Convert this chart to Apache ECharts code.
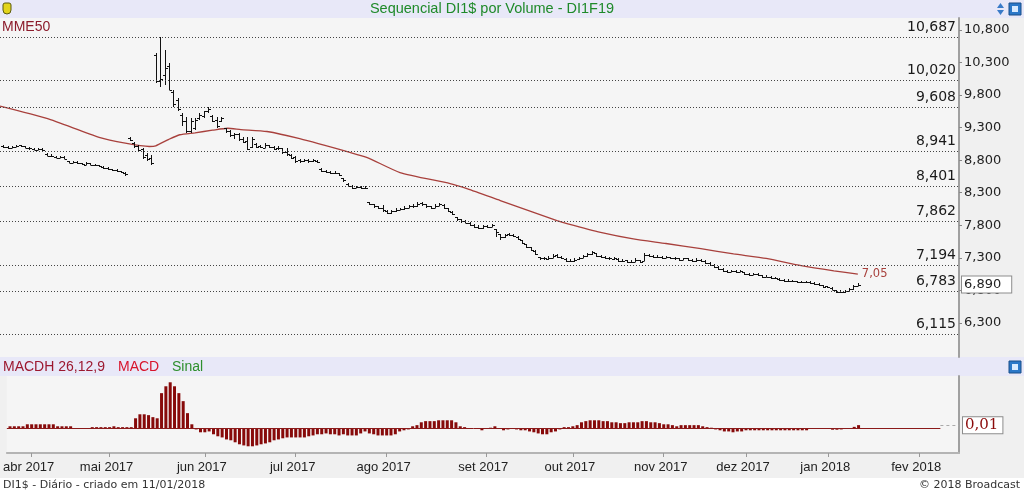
<!DOCTYPE html>
<html>
<head>
<meta charset="utf-8">
<title>Sequencial DI1$ por Volume - DI1F19</title>
<script src="https://cdn.jsdelivr.net/npm/echarts@6/dist/echarts.min.js"></script>
<style>
  html, body { margin: 0; padding: 0; background: #f0f0f0; }
  #main { width: 1024px; height: 491px; }
</style>
</head>
<body>
<div id="main"></div>
<script>
// dias de pregão numerados, 03/04/2017 = 0
var firstDay = -5;

var opens = [
  9.01, 9.00, 8.98, 9.00, 9.03, 9.01, 8.99, 8.97, 8.96, 8.97,
  8.90, 8.87, 8.85, 8.84, 8.85, 8.78, 8.76, 8.77, 8.75, 8.73,
  8.75, 8.73, 8.72, 8.70, 8.68, 8.66, 8.65, 8.63, 8.61, 9.14,
  9.07, 9.01, 8.97, 8.88, 8.83, 10.42, 10.02, 10.10, 10.25, 9.85,
  9.72, 9.50, 9.40, 9.25, 9.30, 9.45, 9.48, 9.55, 9.48, 9.42,
  9.40, 9.30, 9.24, 9.18, 9.20, 9.13, 9.10, 9.00, 9.05, 9.02,
  8.99, 9.03, 9.00, 8.98, 8.98, 8.93, 8.88, 8.85, 8.80, 8.78,
  8.80, 8.78, 8.79, 8.67, 8.64, 8.62, 8.60, 8.60, 8.53, 8.44,
  8.41, 8.38, 8.39, 8.37, 8.15, 8.12, 8.09, 8.07, 8.02, 7.99,
  8.02, 8.04, 8.05, 8.07, 8.10, 8.09, 8.14, 8.12, 8.09, 8.07,
  8.10, 8.11, 8.06, 8.01, 7.92, 7.89, 7.86, 7.84, 7.81, 7.78,
  7.76, 7.79, 7.78, 7.74, 7.66, 7.62, 7.66, 7.65, 7.62, 7.57,
  7.51, 7.46, 7.41, 7.31, 7.29, 7.28, 7.30, 7.34, 7.32, 7.28,
  7.25, 7.25, 7.28, 7.30, 7.33, 7.36, 7.37, 7.33, 7.32, 7.30,
  7.28, 7.28, 7.25, 7.26, 7.24, 7.24, 7.26, 7.25, 7.35, 7.33,
  7.32, 7.31, 7.30, 7.31, 7.30, 7.29, 7.27, 7.29, 7.27, 7.25,
  7.27, 7.25, 7.22, 7.19, 7.16, 7.13, 7.10, 7.09, 7.10, 7.09,
  7.08, 7.05, 7.04, 7.05, 7.03, 7.01, 7.01, 6.99, 6.98, 6.96,
  6.95, 6.95, 6.94, 6.93, 6.93, 6.93, 6.92, 6.90, 6.88, 6.86,
  6.84, 6.80, 6.78, 6.77, 6.79, 6.82, 6.87
];
var highs = [
  9.03, 9.01, 9.02, 9.04, 9.04, 9.02, 9.00, 8.98, 8.99, 8.98,
  8.91, 8.89, 8.87, 8.87, 8.86, 8.79, 8.79, 8.78, 8.76, 8.77,
  8.76, 8.74, 8.73, 8.71, 8.69, 8.67, 8.66, 8.64, 8.62, 9.16,
  9.08, 9.03, 8.99, 8.91, 8.88, 10.45, 10.687, 10.49, 10.29, 9.87,
  9.75, 9.52, 9.46, 9.44, 9.44, 9.52, 9.56, 9.61, 9.49, 9.46,
  9.46, 9.30, 9.26, 9.22, 9.22, 9.15, 9.15, 9.15, 9.06, 9.04,
  9.06, 9.04, 9.02, 9.02, 8.99, 8.98, 8.90, 8.87, 8.82, 8.82,
  8.81, 8.82, 8.80, 8.68, 8.65, 8.63, 8.63, 8.61, 8.53, 8.45,
  8.42, 8.41, 8.40, 8.40, 8.16, 8.13, 8.10, 8.11, 8.03, 8.04,
  8.06, 8.07, 8.09, 8.11, 8.12, 8.16, 8.15, 8.13, 8.10, 8.12,
  8.14, 8.12, 8.07, 8.02, 7.93, 7.90, 7.88, 7.85, 7.82, 7.80,
  7.81, 7.81, 7.82, 7.75, 7.67, 7.67, 7.68, 7.67, 7.63, 7.58,
  7.52, 7.47, 7.42, 7.32, 7.31, 7.33, 7.36, 7.36, 7.33, 7.29,
  7.28, 7.29, 7.32, 7.35, 7.38, 7.41, 7.38, 7.35, 7.33, 7.31,
  7.31, 7.29, 7.28, 7.27, 7.26, 7.29, 7.27, 7.38, 7.36, 7.35,
  7.34, 7.33, 7.33, 7.32, 7.31, 7.30, 7.30, 7.30, 7.28, 7.29,
  7.28, 7.26, 7.23, 7.20, 7.17, 7.14, 7.12, 7.12, 7.11, 7.12,
  7.09, 7.07, 7.07, 7.06, 7.04, 7.03, 7.02, 7.01, 6.99, 6.97,
  6.97, 6.96, 6.95, 6.95, 6.94, 6.94, 6.93, 6.91, 6.89, 6.87,
  6.85, 6.81, 6.80, 6.80, 6.83, 6.88, 6.91
];
var lows = [
  8.99, 8.97, 8.98, 9.00, 9.00, 8.98, 8.96, 8.95, 8.95, 8.94,
  8.86, 8.85, 8.83, 8.83, 8.81, 8.75, 8.75, 8.74, 8.72, 8.73,
  8.72, 8.71, 8.69, 8.67, 8.65, 8.64, 8.62, 8.60, 8.56, 9.10,
  8.99, 8.92, 8.82, 8.79, 8.72, 9.99, 9.92, 9.95, 9.87, 9.61,
  9.56, 9.33, 9.21, 9.21, 9.26, 9.41, 9.44, 9.52, 9.38, 9.29,
  9.38, 9.22, 9.15, 9.13, 9.10, 9.06, 8.95, 8.99, 8.98, 8.98,
  8.98, 8.98, 8.95, 8.95, 8.90, 8.87, 8.82, 8.76, 8.76, 8.77,
  8.76, 8.77, 8.75, 8.62, 8.60, 8.58, 8.59, 8.55, 8.47, 8.39,
  8.36, 8.37, 8.35, 8.36, 8.11, 8.07, 8.05, 8.00, 7.98, 7.98,
  8.01, 8.03, 8.04, 8.06, 8.07, 8.08, 8.10, 8.07, 8.05, 8.06,
  8.09, 8.05, 8.00, 7.96, 7.87, 7.84, 7.83, 7.79, 7.76, 7.75,
  7.75, 7.76, 7.77, 7.62, 7.58, 7.61, 7.63, 7.62, 7.57, 7.51,
  7.45, 7.40, 7.34, 7.27, 7.27, 7.27, 7.29, 7.30, 7.28, 7.23,
  7.23, 7.24, 7.27, 7.29, 7.32, 7.35, 7.31, 7.30, 7.28, 7.27,
  7.27, 7.24, 7.23, 7.22, 7.22, 7.23, 7.22, 7.25, 7.31, 7.30,
  7.30, 7.28, 7.29, 7.28, 7.27, 7.25, 7.26, 7.25, 7.23, 7.24,
  7.23, 7.20, 7.17, 7.14, 7.11, 7.08, 7.07, 7.08, 7.07, 7.08,
  7.03, 7.02, 7.03, 7.02, 6.99, 7.00, 6.97, 6.98, 6.94, 6.93,
  6.93, 6.93, 6.91, 6.92, 6.91, 6.90, 6.88, 6.87, 6.84, 6.83,
  6.80, 6.76, 6.76, 6.76, 6.78, 6.81, 6.86
];
var closes = [
  9.00, 8.99, 9.00, 9.02, 9.01, 8.99, 8.98, 8.96, 8.97, 8.95,
  8.87, 8.86, 8.84, 8.85, 8.82, 8.76, 8.77, 8.75, 8.74, 8.75,
  8.73, 8.72, 8.71, 8.68, 8.66, 8.65, 8.63, 8.62, 8.58, 9.11,
  9.02, 8.95, 8.85, 8.81, 8.76, 10.02, 10.05, 10.21, 9.88, 9.66,
  9.58, 9.40, 9.25, 9.40, 9.42, 9.50, 9.55, 9.59, 9.40, 9.32,
  9.44, 9.24, 9.18, 9.20, 9.12, 9.08, 8.97, 9.12, 9.00, 9.00,
  9.04, 9.00, 8.97, 8.99, 8.92, 8.89, 8.84, 8.78, 8.79, 8.80,
  8.78, 8.80, 8.77, 8.64, 8.62, 8.60, 8.61, 8.57, 8.49, 8.41,
  8.38, 8.39, 8.37, 8.38, 8.13, 8.09, 8.07, 8.04, 7.99, 8.02,
  8.04, 8.05, 8.07, 8.09, 8.09, 8.13, 8.12, 8.09, 8.07, 8.10,
  8.12, 8.07, 8.02, 7.98, 7.89, 7.86, 7.84, 7.81, 7.78, 7.76,
  7.79, 7.78, 7.80, 7.69, 7.62, 7.65, 7.65, 7.64, 7.59, 7.53,
  7.47, 7.42, 7.36, 7.29, 7.29, 7.30, 7.33, 7.32, 7.30, 7.25,
  7.25, 7.27, 7.30, 7.33, 7.36, 7.39, 7.33, 7.32, 7.30, 7.29,
  7.29, 7.25, 7.25, 7.24, 7.24, 7.27, 7.24, 7.35, 7.33, 7.32,
  7.32, 7.30, 7.32, 7.30, 7.29, 7.27, 7.29, 7.27, 7.25, 7.27,
  7.25, 7.22, 7.19, 7.16, 7.13, 7.10, 7.09, 7.10, 7.09, 7.10,
  7.05, 7.04, 7.05, 7.04, 7.01, 7.01, 6.99, 6.99, 6.96, 6.95,
  6.95, 6.95, 6.93, 6.93, 6.93, 6.92, 6.90, 6.89, 6.85, 6.85,
  6.81, 6.78, 6.78, 6.79, 6.82, 6.87, 6.89
];

// MACDH 26,12,9
var macdHist = [
  0.007, 0.007, 0.007, 0.007, 0.014, 0.014, 0.014, 0.014, 0.014, 0.014,
  0.014, 0.007, 0.007, 0.007, 0.007, 0, 0, 0, 0, 0.004,
  0.004, 0.004, 0.004, 0.004, 0.007, 0.004, 0.004, 0.004, 0.004, 0.035,
  0.049, 0.049, 0.046, 0.039, 0.035, 0.123, 0.147, 0.161, 0.147, 0.123,
  0.095, 0.053, 0.014, -0.004, -0.014, -0.014, -0.011, -0.021, -0.028, -0.032,
  -0.039, -0.042, -0.049, -0.056, -0.060, -0.063, -0.063, -0.060, -0.056, -0.053,
  -0.049, -0.042, -0.039, -0.035, -0.032, -0.032, -0.032, -0.032, -0.032, -0.028,
  -0.025, -0.021, -0.021, -0.018, -0.021, -0.021, -0.025, -0.021, -0.025, -0.025,
  -0.025, -0.018, -0.011, -0.018, -0.021, -0.025, -0.025, -0.025, -0.025, -0.021,
  -0.011, -0.007, -0.004, 0.007, 0.011, 0.021, 0.025, 0.025, 0.025, 0.028,
  0.028, 0.028, 0.028, 0.021, 0.007, 0.004, 0.001, 0, 0, -0.007,
  -0.002, 0.002, 0.007, -0.002, -0.007, -0.004, -0.002, -0.004, -0.007, -0.007,
  -0.011, -0.014, -0.018, -0.021, -0.021, -0.014, -0.011, -0.004, 0.004, 0.004,
  0.007, 0.011, 0.021, 0.025, 0.028, 0.028, 0.028, 0.025, 0.025, 0.021,
  0.021, 0.018, 0.018, 0.021, 0.021, 0.021, 0.025, 0.025, 0.021, 0.021,
  0.018, 0.014, 0.014, 0.011, 0.007, 0.011, 0.011, 0.011, 0.011, 0.011,
  0.007, 0.004, 0.002, -0.004, -0.007, -0.011, -0.011, -0.014, -0.011, -0.011,
  -0.007, -0.007, -0.007, -0.007, -0.007, -0.007, -0.007, -0.007, -0.007, -0.007,
  -0.007, -0.007, -0.007, -0.007, -0.007, 0, 0, 0, 0, 0,
  -0.005, -0.005, -0.004, 0, 0, 0.005, 0.011
];

// MME50
var mmeDays   = [-5.73, 5, 17, 23, 28.5, 30, 33, 35.5, 39, 43, 46.5, 49.5, 55.5, 63, 74.5, 78.5,
                 86, 97.5, 101.5, 109, 122, 124.5, 132, 139.5, 147, 155, 162.5, 170, 178, 185.5, 191];
var mmeValues = [9.63, 9.44, 9.15, 9.06, 9.01, 9.02, 9.12, 9.19, 9.22, 9.26, 9.29, 9.27, 9.24, 9.13, 8.92, 8.84,
                 8.61, 8.44, 8.36, 8.18, 7.87, 7.82, 7.69, 7.59, 7.52, 7.44, 7.36, 7.29, 7.18, 7.10, 7.05];

var fibLevels  = [10.687, 10.020, 9.608, 8.941, 8.401, 7.862, 7.194, 6.783, 6.115];
var priceTicks = [6.3, 6.8, 7.3, 7.8, 8.3, 8.8, 9.3, 9.8, 10.3, 10.8];
var monthDays  = [0, 18, 40, 61, 82, 105, 125, 146, 165, 184, 205];
var monthNames = ['abr 2017', 'mai 2017', 'jun 2017', 'jul 2017', 'ago 2017', 'set 2017',
                  'out 2017', 'nov 2017', 'dez 2017', 'jan 2018', 'fev 2018'];

var dayMin = -5.73, dayMax = 214.2;

function br(v, d) { return v.toFixed(d).replace('.', ','); }

var ohlcData = opens.map(function (o, k) {
  return [firstDay + k, o, highs[k], lows[k], closes[k]];
});
var macdData = macdHist.map(function (v, k) { return [firstDay + k, v]; });
var mmeData = mmeDays.map(function (d, k) { return [d, mmeValues[k]]; });
var lastClose = closes[closes.length - 1];
var lastMacd = macdHist[macdHist.length - 1];

function renderBar(params, api) {
  var day = api.value(0);
  var pHigh = api.coord([day, api.value(2)]);
  var pLow = api.coord([day, api.value(3)]);
  var pOpen = api.coord([day, api.value(1)]);
  var pClose = api.coord([day, api.value(4)]);
  var x = Math.round(pHigh[0]) + 0.5;
  var y1 = Math.round(pHigh[1]);
  var y2 = Math.round(pLow[1]);
  if (y2 - y1 < 2) y2 = y1 + 2;
  var yo = Math.round(pOpen[1]) + 0.5;
  var yc = Math.round(pClose[1]) + 0.5;
  return {
    type: 'group',
    children: [
      { type: 'line', shape: { x1: x, y1: y1, x2: x, y2: y2 }, style: { stroke: '#111', lineWidth: 1 } },
      { type: 'line', shape: { x1: x - 2.5, y1: yo, x2: x, y2: yo }, style: { stroke: '#111', lineWidth: 1 } },
      { type: 'line', shape: { x1: x, y1: yc, x2: x + 2.5, y2: yc }, style: { stroke: '#111', lineWidth: 1 } }
    ]
  };
}

var chart = echarts.init(document.getElementById('main'));

var fibLines = fibLevels.map(function (v) {
  return {
    yAxis: v,
    lineStyle: { type: [1, 2], color: '#444', width: 1 },
    label: {
      show: true, position: 'insideEndTop', distance: 3,
      formatter: br(v, 3), color: '#1a1a1a', fontFamily: 'DejaVu Sans', fontSize: 14
    }
  };
});
fibLines.push({
  yAxis: lastClose,
  lineStyle: { color: 'rgba(0,0,0,0)', width: 1 },
  label: {
    show: true, position: 'end', distance: 3, formatter: br(lastClose, 3),
    color: '#222', fontFamily: 'DejaVu Sans', fontSize: 13,
    backgroundColor: '#fff', borderColor: '#8c8c8c', borderWidth: 1, padding: [2, 10, 1, 2]
  }
});

var option = {
  backgroundColor: '#f0f0f0',
  animation: false,
  grid: [
    { left: 0, top: 18, width: 959, height: 339, show: true, backgroundColor: '#f5f5f5', borderWidth: 0 },
    { left: 0, top: 376, width: 959, height: 77, show: true, backgroundColor: '#f5f5f5', borderWidth: 0 }
  ],
  xAxis: [
    { gridIndex: 0, type: 'value', min: dayMin, max: dayMax, show: false },
    {
      gridIndex: 1, type: 'value', min: dayMin, max: dayMax,
      axisLine: { onZero: false, lineStyle: { color: '#b4b4b4', width: 2 } },
      axisTick: { customValues: monthDays, length: 4, lineStyle: { color: '#999' } },
      axisLabel: {
        customValues: monthDays,
        formatter: function (v) { return monthNames[monthDays.indexOf(v)] || ''; },
        color: '#222', fontFamily: 'Liberation Sans', fontSize: 13, margin: 8, padding: [0, 6, 0, 0]
      },
      splitLine: { show: false }
    }
  ],
  yAxis: [
    {
      gridIndex: 0, type: 'value', position: 'right', min: 5.777, max: 10.983,
      axisLine: { show: true, onZero: false, lineStyle: { color: '#a0a0a0', width: 2 } },
      axisTick: { show: true, customValues: priceTicks, length: 3, lineStyle: { color: '#888' } },
      axisLabel: {
        customValues: priceTicks, formatter: function (v) { return br(v, 3); },
        color: '#222', fontFamily: 'DejaVu Sans', fontSize: 13, margin: 5, padding: [5, 0, 0, 0]
      },
      splitLine: { show: false }
    },
    {
      gridIndex: 1, type: 'value', position: 'right', min: -0.0865, max: 0.183,
      axisLine: { show: true, onZero: false, lineStyle: { color: '#a0a0a0', width: 2 } },
      axisTick: { show: false }, axisLabel: { show: false }, splitLine: { show: false }
    }
  ],
  series: [
    {
      name: 'DI1$', type: 'custom', xAxisIndex: 0, yAxisIndex: 0,
      renderItem: renderBar, data: ohlcData, encode: { x: 0, y: [1, 2, 3, 4] }, z: 3
    },
    {
      name: 'MME50', type: 'line', xAxisIndex: 0, yAxisIndex: 0, data: mmeData,
      symbol: 'none', smooth: 0.2, silent: true, z: 2,
      lineStyle: { color: '#a8403c', width: 1.3 },
      endLabel: {
        show: true, distance: 4, formatter: function (p) { return br(p.value[1], 2); },
        color: '#a8403c', fontFamily: 'DejaVu Sans', fontSize: 11.5
      },
      markLine: { symbol: ['none', 'none'], silent: true, data: fibLines }
    },
    {
      name: 'MACDH', type: 'bar', xAxisIndex: 1, yAxisIndex: 1, data: macdData,
      barWidth: 3, itemStyle: { color: '#870a0a' }, silent: true,
      markLine: {
        symbol: ['none', 'none'], silent: true,
        data: [
          [{ coord: [dayMin, 0], lineStyle: { type: 'solid', color: '#8b1a1a', width: 1 }, label: { show: false } },
           { coord: [209.9, 0] }],
          [{ coord: [209.9, lastMacd], lineStyle: { type: [3, 3], color: '#aaa', width: 1 },
             label: {
               show: true, position: 'end', distance: 4, formatter: br(lastMacd, 2),
               color: '#8b0a0a', fontFamily: 'DejaVu Serif', fontSize: 15,
               backgroundColor: '#fff', borderColor: '#8c8c8c', borderWidth: 1, padding: [1, 4, 0, 2]
             } },
           { coord: [dayMax, lastMacd] }]
        ]
      }
    }
  ],
  graphic: [
    { type: 'rect', silent: true, shape: { x: 0, y: 0, width: 1024, height: 18 }, style: { fill: '#e8e8f8' } },
    { type: 'rect', silent: true, shape: { x: 0, y: 357, width: 1024, height: 19 }, style: { fill: '#e8e8f8' } },
    { type: 'rect', silent: true, shape: { x: 0, y: 478, width: 1024, height: 13 }, style: { fill: '#ffffff' } },
    { type: 'text', silent: true, x: 492, y: 9,
      style: { text: 'Sequencial DI1$ por Volume - DI1F19', fill: '#1f8a2a', font: '14.5px "Liberation Sans", Arial, sans-serif', align: 'center', verticalAlign: 'middle' } },
    { type: 'text', silent: true, x: 2, y: 27,
      style: { text: 'MME50', fill: '#8c1c2c', font: '14px "Liberation Sans", Arial, sans-serif', verticalAlign: 'middle' } },
    { type: 'text', silent: true, x: 3, y: 367,
      style: { text: 'MACDH 26,12,9', fill: '#9c1830', font: '14px "Liberation Sans", Arial, sans-serif', verticalAlign: 'middle' } },
    { type: 'text', silent: true, x: 118, y: 367,
      style: { text: 'MACD', fill: '#d8142c', font: '14px "Liberation Sans", Arial, sans-serif', verticalAlign: 'middle' } },
    { type: 'text', silent: true, x: 172, y: 367,
      style: { text: 'Sinal', fill: '#2d8f2d', font: '14px "Liberation Sans", Arial, sans-serif', verticalAlign: 'middle' } },
    { type: 'text', silent: true, x: 3, y: 485,
      style: { text: 'DI1$ - Diário - criado em 11/01/2018', fill: '#333', font: '11px "DejaVu Sans", sans-serif', verticalAlign: 'middle' } },
    { type: 'text', silent: true, x: 1020, y: 485,
      style: { text: '© 2018 Broadcast', fill: '#333', font: '11px "DejaVu Sans", sans-serif', align: 'right', verticalAlign: 'middle' } },
    // ícones
    { type: 'rect', silent: true, shape: { x: 3, y: 3, width: 8, height: 11, r: [2, 2, 4, 4] }, style: { fill: '#e2d41c', stroke: '#5a5a10', lineWidth: 1 } },
    { type: 'polygon', silent: true, shape: { points: [[997, 8], [1000.5, 3], [1004, 8]] }, style: { fill: '#3a7bc8' } },
    { type: 'polygon', silent: true, shape: { points: [[997, 10], [1000.5, 15], [1004, 10]] }, style: { fill: '#3a7bc8' } },
    { type: 'rect', silent: true, shape: { x: 1009, y: 3, width: 12, height: 12 }, style: { fill: '#2b78c8', stroke: '#1a4f8a', lineWidth: 1 } },
    { type: 'rect', silent: true, shape: { x: 1012, y: 6, width: 6, height: 6 }, style: { fill: '#d8eaff' } },
    { type: 'rect', silent: true, shape: { x: 1009, y: 361, width: 12, height: 12 }, style: { fill: '#2b78c8', stroke: '#1a4f8a', lineWidth: 1 } },
    { type: 'rect', silent: true, shape: { x: 1012, y: 364, width: 6, height: 6 }, style: { fill: '#d8eaff' } }
  ]
};

chart.setOption(option);
</script>
</body>
</html>
